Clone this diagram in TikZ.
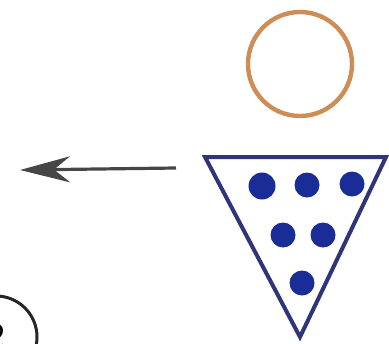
\documentclass[tikz,border=0pt]{standalone}
\usepackage{tikz}
\usetikzlibrary{arrows.meta,positioning}
\definecolor{ringorange}{RGB}{206,140,86}
\definecolor{dotblue}{RGB}{26,44,150}
\definecolor{edgeblue}{RGB}{48,52,120}
\definecolor{arrowgrey}{RGB}{70,70,70}

\begin{document}
\begin{tikzpicture}[x=0.5mm, y=-0.5mm, dot/.style={circle, fill=dotblue, draw=none, inner sep=0pt, minimum size=12.5mm}]
\useasboundingbox (0,0) rectangle (389,343);
% ring
\node[circle, draw=ringorange, line width=2.2mm, minimum size=52mm, inner sep=0pt] (ring) at (300,64) {};

% arrow
\coordinate (tail) at (176,168);
\coordinate (tip) at (20,170);
\draw[arrowgrey, line width=1.6mm, -{Stealth[length=25mm, width=13mm, inset=8mm]}] (tail) -- (tip);

% triangle
\coordinate (tl) at (205,157);
\coordinate (tr) at (386,157);
\coordinate (bt) at (300,337);
\draw[edgeblue, line width=2mm, line join=miter] (tl) -- (tr) -- (bt) -- cycle;
\node[dot, minimum size=13.5mm] (d1) at (262,186) {};
\node[dot] (d2) at (307,185) {};
\node[dot] (d3) at (352,184) {};
\node[dot] (d4) at (283,235) {};
\node[dot] (d5) at (323,235) {};
\node[dot] (d6) at (302,283) {};

% label
\node[circle, draw=black!85, line width=1.5mm, minimum size=41mm, inner sep=0pt, font=\fontsize{58}{58}\selectfont] (num) at (-4,337) {2};
\end{tikzpicture}
\end{document}
